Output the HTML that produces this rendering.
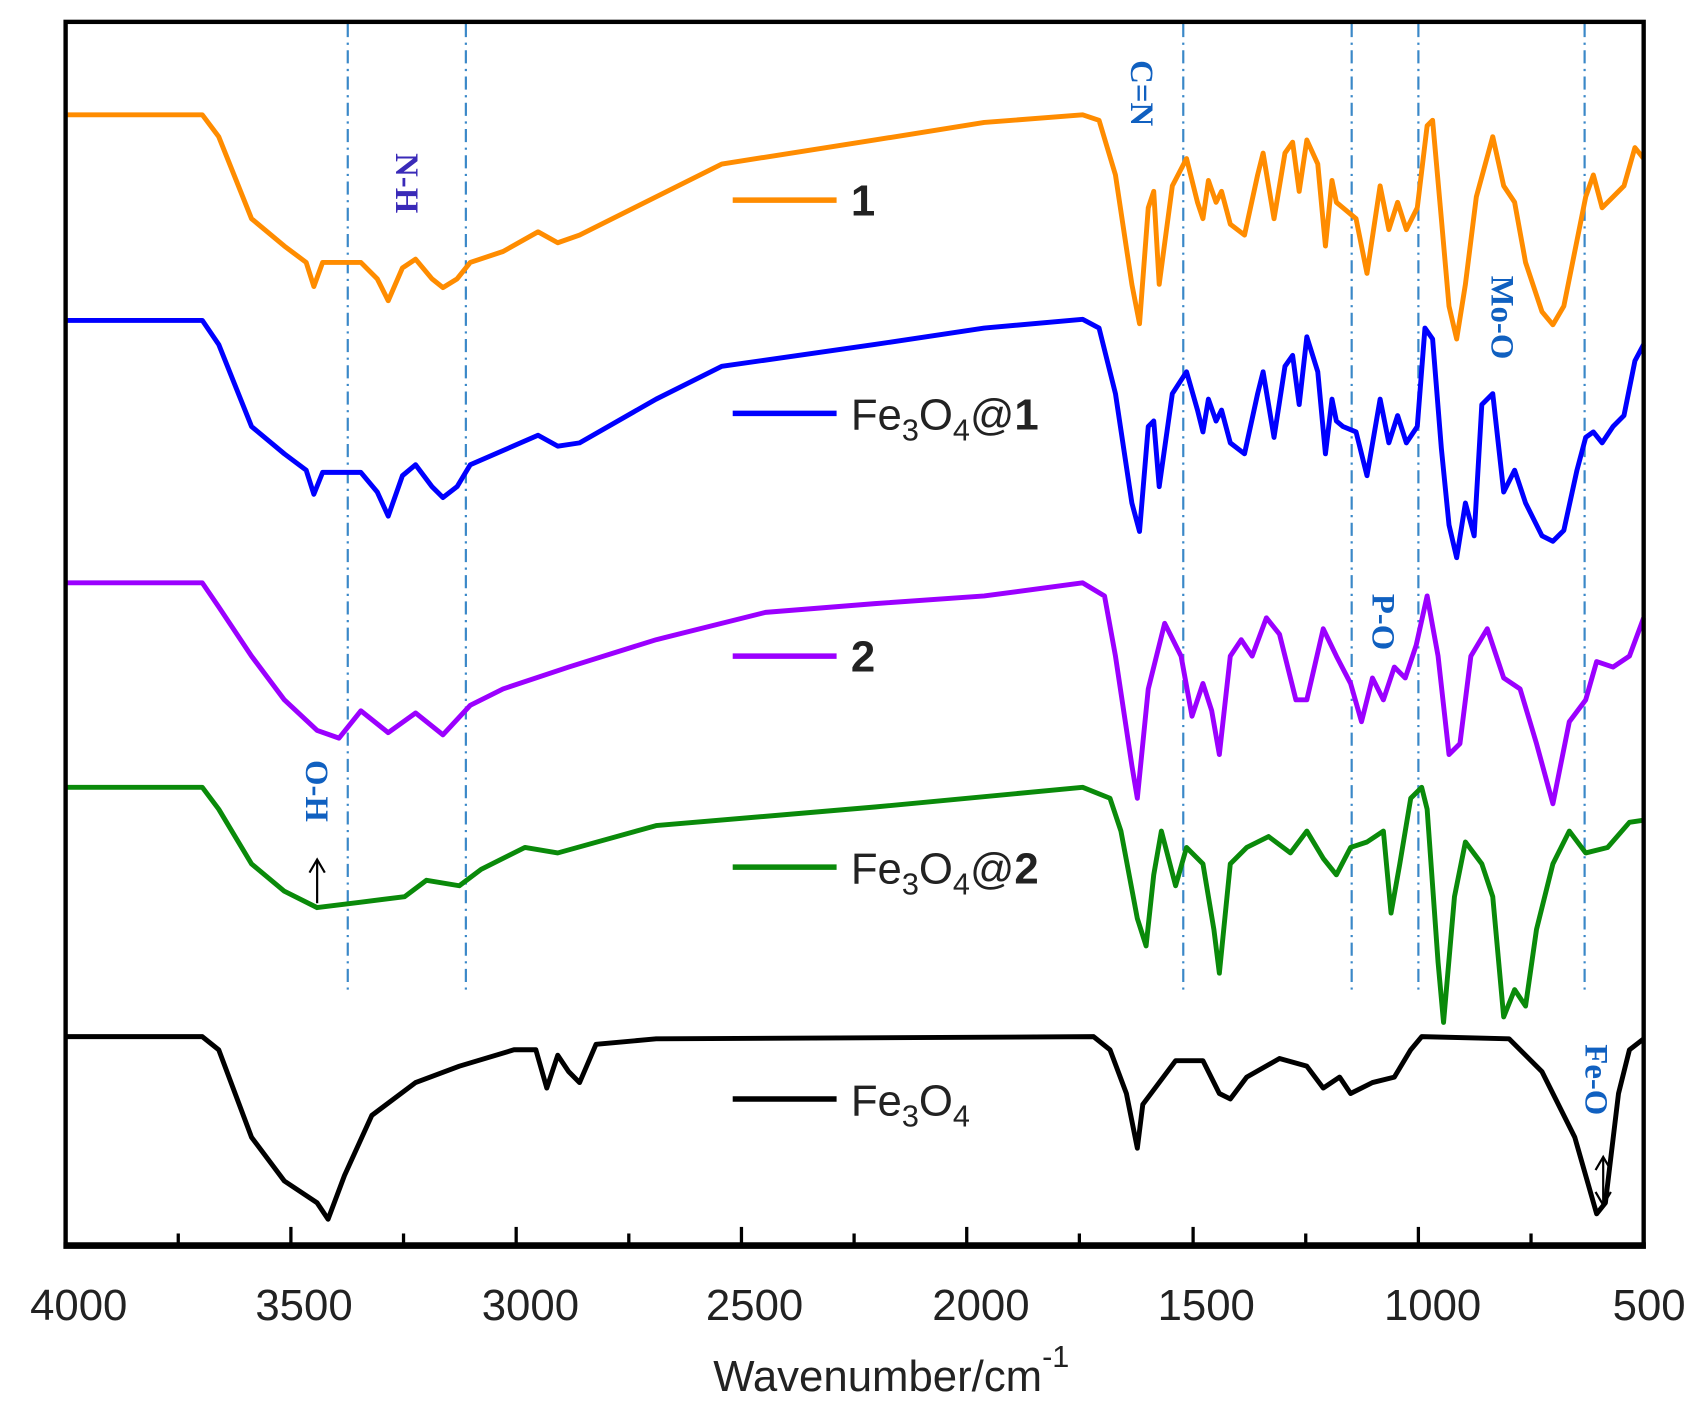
<!DOCTYPE html>
<html><head><meta charset="utf-8"><style>
html,body{margin:0;padding:0;background:#fff;width:1706px;height:1415px;overflow:hidden}
svg{display:block}
.t{font-family:"Liberation Sans",sans-serif}
.a{font-family:"Liberation Serif",serif;font-weight:bold;font-size:30px}
</style></head><body>
<svg width="1706" height="1415" viewBox="0 0 1560 1294" preserveAspectRatio="none" xmlns="http://www.w3.org/2000/svg">
<g stroke="#3a88c8" stroke-width="2" stroke-dasharray="12,5,2,5" fill="none">
<line x1="318" y1="22" x2="318" y2="908"/><line x1="426" y1="22" x2="426" y2="908"/>
<line x1="1082" y1="22" x2="1082" y2="908"/><line x1="1236" y1="22" x2="1236" y2="908"/>
<line x1="1297" y1="22" x2="1297" y2="908"/><line x1="1449" y1="22" x2="1449" y2="908"/>
</g>
<g fill="none" stroke-width="4.5" stroke-linejoin="round">
<polyline stroke="#ff8c00" points="60,105 185,105 200,125 230,200 260,225 280,240 287,262 295,240 330,240 345,255 355,275 368,245 380,237 395,255 405,263 418,255 430,240 460,230 492,212 510,222 530,215 600,180 660,150 800,128 900,112 990,105 1005,110 1020,160 1035,260 1042,296 1050,190 1055,175 1060,260 1072,170 1085,145 1095,185 1100,200 1105,165 1112,185 1117,175 1125,205 1138,215 1150,160 1155,140 1165,200 1175,140 1182,130 1188,175 1195,128 1205,150 1212,225 1218,165 1222,185 1228,190 1240,200 1250,250 1262,170 1270,210 1278,185 1286,210 1296,190 1305,115 1310,110 1318,200 1325,280 1332,310 1340,260 1350,180 1365,125 1375,170 1385,185 1395,240 1410,285 1420,297 1430,280 1442,220 1450,180 1457,160 1465,190 1475,180 1485,170 1495,135 1503,145"/>
<polyline stroke="#0000ff" transform="translate(0,190)" points="60,103 185,103 200,125 230,200 260,225 280,240 287,262 295,242 330,242 345,260 355,282 368,245 380,235 395,255 405,265 418,255 430,235 460,222 492,208 510,218 530,215 600,175 660,145 800,125 900,110 990,102 1005,110 1020,170 1035,270 1042,296 1050,200 1055,195 1060,255 1072,170 1085,150 1095,185 1100,205 1105,175 1112,195 1117,185 1125,215 1138,225 1150,170 1155,150 1165,210 1175,145 1182,135 1188,180 1195,118 1205,150 1212,225 1218,175 1222,195 1228,200 1240,205 1250,245 1262,175 1270,215 1278,190 1286,215 1296,200 1303,110 1310,120 1318,220 1325,290 1332,320 1340,270 1348,300 1355,180 1365,170 1375,260 1385,240 1395,270 1410,300 1420,305 1430,295 1442,240 1450,210 1457,205 1465,215 1475,200 1485,190 1495,140 1503,125"/>
<polyline stroke="#9b00ff" points="60,533 185,533 200,555 230,600 260,640 290,668 310,675 330,650 355,670 380,652 405,672 430,645 460,630 520,610 600,585 700,560 800,552 900,545 990,533 1010,545 1020,600 1035,700 1040,730 1050,630 1065,570 1080,600 1090,655 1100,625 1108,650 1115,690 1125,600 1135,585 1145,600 1158,565 1170,580 1185,640 1195,640 1210,575 1222,600 1235,625 1245,660 1255,620 1265,640 1275,610 1285,620 1295,590 1305,545 1315,600 1325,690 1335,680 1345,600 1360,575 1375,620 1390,630 1405,680 1420,735 1435,660 1450,640 1460,605 1475,610 1490,600 1503,565"/>
<polyline stroke="#0a8a0a" points="60,720 185,720 200,740 230,790 260,815 290,830 330,825 370,820 390,805 420,810 440,795 480,775 510,780 600,755 800,738 990,720 1015,730 1025,760 1040,840 1048,865 1055,800 1062,760 1075,810 1085,775 1100,790 1110,850 1115,890 1125,790 1140,775 1160,765 1180,780 1195,760 1210,785 1222,800 1235,775 1250,770 1265,760 1272,835 1280,790 1290,730 1300,720 1305,740 1315,880 1320,935 1330,820 1340,770 1355,790 1365,820 1375,930 1385,905 1395,920 1405,850 1420,790 1435,760 1450,780 1470,775 1490,752 1503,750"/>
<polyline stroke="#000" points="60,948 185,948 200,960 230,1040 260,1080 290,1100 300,1115 315,1075 340,1020 380,990 420,975 470,960 490,960 500,995 510,965 520,980 530,990 545,955 600,950 1000,948 1015,960 1030,1000 1040,1050 1045,1010 1060,990 1075,970 1100,970 1115,1000 1125,1005 1140,985 1170,968 1195,975 1210,995 1225,985 1235,1000 1255,990 1275,985 1290,960 1300,948 1380,950 1410,980 1440,1040 1460,1110 1468,1100 1480,1000 1490,960 1503,950"/>
</g>
<rect x="60" y="20" width="1443" height="1120" fill="none" stroke="#000" stroke-width="4"/>
<line x1="58" y1="1139" x2="1505" y2="1139" stroke="#000" stroke-width="6"/>
<g stroke="#000" stroke-width="3">
<line x1="60" y1="1140" x2="60" y2="1122"/><line x1="163" y1="1140" x2="163" y2="1128"/>
<line x1="266" y1="1140" x2="266" y2="1122"/><line x1="369" y1="1140" x2="369" y2="1128"/>
<line x1="472" y1="1140" x2="472" y2="1122"/><line x1="575" y1="1140" x2="575" y2="1128"/>
<line x1="678" y1="1140" x2="678" y2="1122"/><line x1="781" y1="1140" x2="781" y2="1128"/>
<line x1="884" y1="1140" x2="884" y2="1122"/><line x1="987" y1="1140" x2="987" y2="1128"/>
<line x1="1091" y1="1140" x2="1091" y2="1122"/><line x1="1194" y1="1140" x2="1194" y2="1128"/>
<line x1="1297" y1="1140" x2="1297" y2="1122"/><line x1="1400" y1="1140" x2="1400" y2="1128"/>
</g>
<g class="t" font-size="40" fill="#222" text-anchor="middle">
<text x="72" y="1207">4000</text><text x="278" y="1207">3500</text><text x="485" y="1207">3000</text>
<text x="690" y="1207">2500</text><text x="897" y="1207">2000</text><text x="1103" y="1207">1500</text>
<text x="1310" y="1207">1000</text><text x="1508" y="1207">500</text>
<text x="815" y="1272">Wavenumber/cm<tspan font-size="28" dy="-22">-1</tspan></text>
</g>
<g stroke-width="5">
<line x1="670" y1="183" x2="765" y2="183" stroke="#ff8c00"/>
<line x1="670" y1="378" x2="765" y2="378" stroke="#0000ff"/>
<line x1="670" y1="600" x2="765" y2="600" stroke="#9b00ff"/>
<line x1="670" y1="793" x2="765" y2="793" stroke="#0a8a0a"/>
<line x1="670" y1="1005" x2="765" y2="1005" stroke="#000"/>
</g>
<g class="t" font-size="40" fill="#222">
<text x="778" y="197" font-weight="bold">1</text>
<text x="778" y="393">Fe<tspan font-size="28" dy="10">3</tspan><tspan dy="-10">O</tspan><tspan font-size="28" dy="10">4</tspan><tspan dy="-10">@</tspan><tspan font-weight="bold">1</tspan></text>
<text x="778" y="614" font-weight="bold">2</text>
<text x="778" y="808">Fe<tspan font-size="28" dy="10">3</tspan><tspan dy="-10">O</tspan><tspan font-size="28" dy="10">4</tspan><tspan dy="-10">@</tspan><tspan font-weight="bold">2</tspan></text>
<text x="778" y="1020">Fe<tspan font-size="28" dy="10">3</tspan><tspan dy="-10">O</tspan><tspan font-size="28" dy="10">4</tspan></text>
</g>
<g class="a">
<text transform="translate(362,140) rotate(90)" fill="#3a2ab8">N-H</text>
<text transform="translate(1034,55) rotate(90)" fill="#1060c0">C=N</text>
<text transform="translate(1364,252) rotate(90)" fill="#1060c0">Mo-O</text>
<text transform="translate(1255,543) rotate(90)" fill="#1060c0">P-O</text>
<text transform="translate(280,695) rotate(90)" fill="#1060c0">O-H</text>
<text transform="translate(1450,955) rotate(90)" fill="#1060c0">Fe-O</text>
</g>
<g stroke="#000" stroke-width="2" fill="none">
<line x1="290" y1="826" x2="290" y2="786"/><polyline points="283,798 290,786 297,798"/>
<line x1="1466" y1="1100" x2="1466" y2="1060"/><polyline points="1459,1070 1466,1058 1473,1070"/><polyline points="1459,1090 1466,1102 1473,1090"/>
</g>
</svg>
</body></html>
